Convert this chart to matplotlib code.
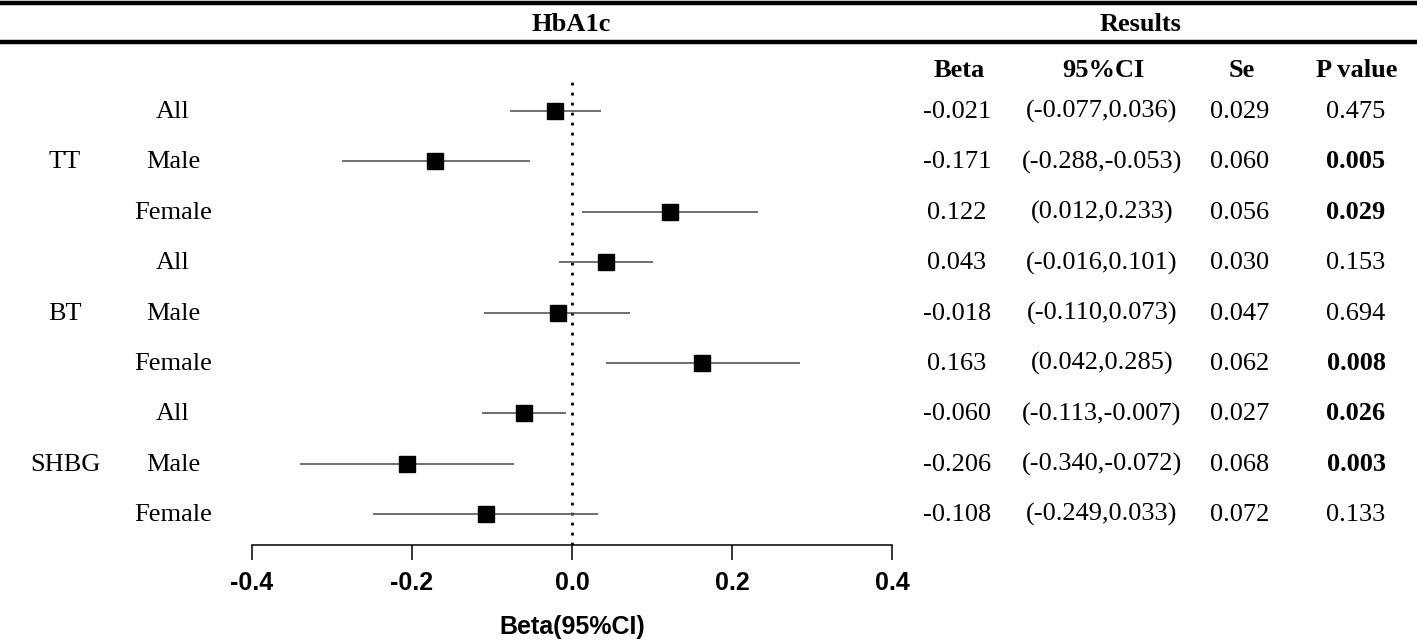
import numpy as np
import matplotlib
matplotlib.use("Agg")
import matplotlib.pyplot as plt
from matplotlib.lines import Line2D
from matplotlib.transforms import blended_transform_factory

# data
groups = ["TT", "TT", "TT", "BT", "BT", "BT", "SHBG", "SHBG", "SHBG"]
sexes = ["All", "Male", "Female", "All", "Male", "Female", "All", "Male", "Female"]
beta = [-0.021, -0.171, 0.122, 0.043, -0.018, 0.163, -0.060, -0.206, -0.108]
lower = [-0.077, -0.288, 0.012, -0.016, -0.110, 0.042, -0.113, -0.340, -0.249]
upper = [0.036, -0.053, 0.233, 0.101, 0.073, 0.285, -0.007, -0.072, 0.033]
se = [0.029, 0.060, 0.056, 0.030, 0.047, 0.062, 0.027, 0.068, 0.072]
pval = [0.475, 0.005, 0.029, 0.153, 0.694, 0.008, 0.026, 0.003, 0.133]
xticks = [-0.4, -0.2, 0.0, 0.2, 0.4]

W, H = 1417, 643
serif = "Liberation Serif"
sans = "Liberation Sans"

fig = plt.figure(figsize=(W / 100, H / 100), dpi=100)

def fx(px):
    return px / W

def fy(py):
    return 1 - py / H

# forest plot axes (pixel box: x 252..892, y 75..545)
ax = fig.add_axes([fx(252), fy(545), fx(892) - fx(252), fy(75) - fy(545)])
rows = np.arange(len(beta))
ax.set_xlim(-0.4, 0.4)
ax.set_ylim(8 + 31 / 50.375, -36 / 50.375)

ax.axvline(0, color="black", lw=2.0, ls=(0, (1, 2.6)), zorder=1)
ax.hlines(rows, lower, upper, color="#555555", lw=1.2, zorder=2)
ax.plot(beta, rows, ls="none", marker="s", ms=11.5, color="black", zorder=3)

for s in ["top", "right", "left"]:
    ax.spines[s].set_visible(False)
ax.spines["bottom"].set_linewidth(1.1)
ax.spines["bottom"].set_bounds(-0.4, 0.4)
ax.set_yticks([])
ax.set_xticks(xticks)
ax.set_xticklabels(["%.1f" % t for t in xticks], fontfamily=sans,
                   fontweight="bold", fontsize=18)
ax.tick_params(axis="x", length=11, width=1.1, pad=8)
ax.set_xlabel("Beta(95%CI)", fontfamily=sans, fontweight="bold",
              fontsize=18, labelpad=14)
ax.patch.set_alpha(0)

# table text on the rows (baseline placed so digits sit centred on the row)
tr = blended_transform_factory(fig.transFigure, ax.transData)
fs = 19
off = 7 / 50.375
for i in rows:
    y = i + off
    if i % 3 == 1:
        ax.text(fx(65), y, groups[i], transform=tr, ha="center",
                va="baseline", fontfamily=serif, fontsize=fs)
    ax.text(fx(173), y, sexes[i], transform=tr, ha="center", va="baseline",
            fontfamily=serif, fontsize=fs)
    ax.text(fx(957), y, "%.3f" % beta[i], transform=tr, ha="center",
            va="baseline", fontfamily=serif, fontsize=fs)
    ax.text(fx(1102), y, "(%.3f,%.3f)" % (lower[i], upper[i]), transform=tr,
            ha="center", va="baseline", fontfamily=serif, fontsize=fs)
    ax.text(fx(1240), y, "%.3f" % se[i], transform=tr, ha="center",
            va="baseline", fontfamily=serif, fontsize=fs)
    ax.text(fx(1356), y, "%.3f" % pval[i], transform=tr, ha="center",
            va="baseline", fontfamily=serif, fontsize=fs,
            fontweight="bold" if pval[i] < 0.05 else "normal")

# headers
fig.text(fx(571), fy(31), "HbA1c", ha="center", va="baseline",
         fontfamily=serif, fontweight="bold", fontsize=fs)
fig.text(fx(1140), fy(31), "Results", ha="center", va="baseline",
         fontfamily=serif, fontweight="bold", fontsize=fs)
for x, lab in zip([959, 1103, 1242, 1357], ["Beta", "95%CI", "Se", "P value"]):
    fig.text(fx(x), fy(77), lab, ha="center", va="baseline",
             fontfamily=serif, fontweight="bold", fontsize=fs)

for y in [3, 42]:
    fig.add_artist(Line2D([0, 1], [fy(y), fy(y)], color="black", lw=3.2,
                          transform=fig.transFigure))

fig.savefig("out.png", dpi=100)
